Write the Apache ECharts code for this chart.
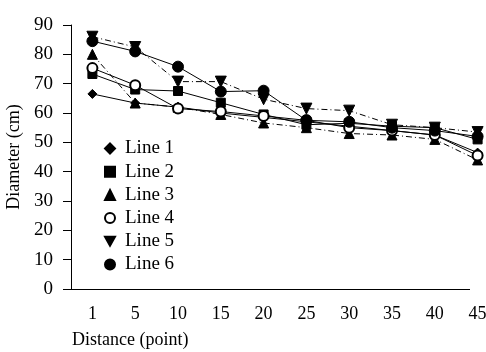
<!DOCTYPE html>
<html>
    <head>
        <meta charset="utf-8">
        <script src="https://cdn.jsdelivr.net/npm/echarts@6/dist/echarts.min.js"></script>
    </head>
    <body style="margin:0">
        <style>
            html, body, #main {
                width: 486px;
                height: 352px;
                background: #fff;
            }
        </style>
        <div id="main"></div>
        <script>
            var categories = ['1', '5', '10', '15', '20', '25', '30', '35', '40', '45'];
            var line1 = [66.5, 63.4, 62, 60, 58.5, 57, 55.5, 54, 52.5, 46.5];
            var line2 = [73.3, 68, 67.5, 63.5, 59.5, 56, 56.5, 55.5, 55, 51];
            var line3 = [80, 63.4, 62, 59.5, 56.6, 55, 53, 52.5, 51, 44];
            var line4 = [75.3, 69.5, 61.5, 60.5, 59, 57.5, 55, 54, 52.5, 45.5];
            var line5 = [86, 82.5, 70.7, 70.7, 64.7, 61.5, 60.8, 56, 55, 53.5];
            var line6 = [84.5, 81, 75.8, 67.3, 67.6, 57.5, 57, 55, 54, 52];

            var font = 'Liberation Serif';
            var downTri = 'path://M0,0 L10,0 L5,9 Z';

            function makeSeries(name, data, symbol, size, dashed) {
                return {
                    name: name,
                    type: 'line',
                    data: data,
                    symbol: symbol,
                    symbolSize: size,
                    showAllSymbol: true,
                    clip: false,
                    z: 3,
                    itemStyle: {color: '#000', borderColor: '#000', borderWidth: 1},
                    lineStyle: {
                        color: '#000',
                        width: 1,
                        type: dashed ? [6, 3, 1, 3] : 'solid'
                    }
                };
            }

            var chart = echarts.init(document.getElementById('main'));

            chart.setOption({
                animation: false,
                backgroundColor: '#fff',
                textStyle: {fontFamily: font},
                title: {
                    text: 'Distance (point)',
                    left: 72,
                    top: 331,
                    padding: 0,
                    textStyle: {fontFamily: font, fontSize: 18, fontWeight: 'normal', color: '#000'}
                },
                legend: {
                    orient: 'vertical',
                    left: 104,
                    top: 139,
                    padding: 0,
                    itemWidth: 10,
                    itemHeight: 10,
                    itemGap: 4.2,
                    textStyle: {fontFamily: font, fontSize: 19, color: '#000', padding: [0, 0, 0, 5], lineHeight: 19},
                    data: [
                        {name: 'Line 1', icon: 'diamond'},
                        {name: 'Line 2', icon: 'rect'},
                        {name: 'Line 3', icon: 'triangle'},
                        {name: 'Line 4', icon: 'emptyCircle'},
                        {name: 'Line 5', icon: downTri},
                        {name: 'Line 6', icon: 'circle'}
                    ]
                },
                grid: {
                    left: 71,
                    top: 25,
                    width: 428,
                    height: 264,
                    outerBoundsMode: 'none',
                    containLabel: false
                },
                xAxis: {
                    type: 'category',
                    data: categories,
                    boundaryGap: true,
                    axisLine: {show: false},
                    axisTick: {show: false},
                    axisLabel: {
                        color: '#000',
                        fontFamily: font,
                        fontSize: 18,
                        margin: 16
                    }
                },
                yAxis: {
                    type: 'value',
                    min: 0,
                    max: 90,
                    interval: 10,
                    name: 'Diameter (cm)',
                    nameLocation: 'middle',
                    nameGap: 47,
                    nameTextStyle: {fontFamily: font, fontSize: 18, color: '#000'},
                    axisLine: {show: true, lineStyle: {color: '#000', width: 1}},
                    axisTick: {show: true, inside: false, length: 8, lineStyle: {color: '#000'}},
                    axisLabel: {color: '#000', fontFamily: font, fontSize: 19, margin: 18},
                    splitLine: {show: false}
                },
                graphic: [{
                    type: 'line',
                    shape: {x1: 71, y1: 289.5, x2: 470, y2: 289.5},
                    style: {stroke: '#000', lineWidth: 1},
                    z: 10
                }],
                series: [
                    makeSeries('Line 1', line1, 'diamond', 9, false),
                    makeSeries('Line 2', line2, 'rect', 9, false),
                    makeSeries('Line 3', line3, 'triangle', 10, true),
                    makeSeries('Line 4', line4, 'emptyCircle', 10, false),
                    makeSeries('Line 5', line5, downTri, 11, true),
                    makeSeries('Line 6', line6, 'circle', 11, false)
                ]
            });
        </script>
    </body>
</html>
